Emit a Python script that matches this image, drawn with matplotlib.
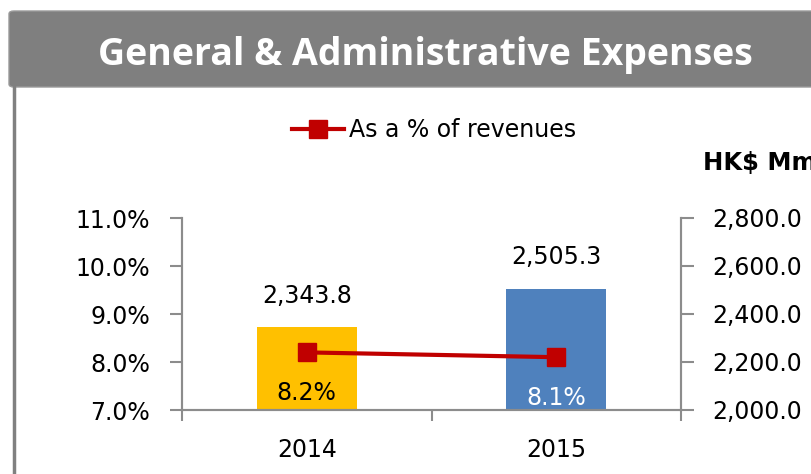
import matplotlib
matplotlib.use("Agg")
import matplotlib.pyplot as plt
import matplotlib.patches as patches
from matplotlib.ticker import FuncFormatter, FixedLocator

# chart data
years = ["2014", "2015"]
expenses = [2343.8, 2505.3]          # HK$ Mm, right axis
pct_revenue = [8.2, 8.1]             # % of revenues, left axis
bar_colors = ["#FFC000", "#4F81BD"]
pct_label_colors = ["black", "white"]

title = "General & Administrative Expenses"
legend_label = "As a % of revenues"
unit_label = "HK$ Mm"

plt.rcParams['font.family'] = ['DejaVu Sans']
W, H = 811, 474
fig = plt.figure(figsize=(W / 100, H / 100), dpi=100)
fig.patch.set_facecolor('white')

# header bar and left frame line
header = patches.FancyBboxPatch((9 / W, 1 - 87 / H), 820 / W, 76 / H,
                                boxstyle="round,pad=0,rounding_size=0.006",
                                transform=fig.transFigure, facecolor='#7F7F7F',
                                edgecolor='#9A9A9A', linewidth=1, zorder=1)
fig.patches.append(header)
fig.add_artist(plt.Line2D([14 / W, 14 / W], [0, 1 - 87 / H], color='#808080',
                          lw=2.5, transform=fig.transFigure))
fig.text(425 / W, 1 - 55 / H, title, color='white', fontsize=27,
         fontweight='bold', ha='center', va='center', family='Open Sans')

# axes: left (percentage) and right (amount)
ax = fig.add_axes([182 / W, 1 - 410 / H, (681 - 182) / W, (410 - 218) / H])
ax2 = ax.twinx()
ax.set_zorder(ax2.get_zorder() + 1)
ax.patch.set_visible(False)

x = list(range(len(years)))
bars = ax2.bar(x, expenses, width=0.4, color=bar_colors, zorder=2)
ax2.set_ylim(2000, 2800)
ax2.set_yticks([2000, 2200, 2400, 2600, 2800])
ax2.yaxis.set_major_formatter(FuncFormatter(lambda v, p: "{:,.1f}".format(v)))
for xi, v in zip(x, expenses):
    ax2.annotate("{:,.1f}".format(v), (xi, v), xytext=(0, 23),
                 textcoords='offset points', ha='center', va='center', fontsize=17)

line, = ax.plot(x, pct_revenue, color='#C00000', lw=3, marker='s',
                markersize=13, zorder=5, label=legend_label)
for xi, v, c in zip(x, pct_revenue, pct_label_colors):
    ax.annotate("%.1f%%" % v, (xi, v), xytext=(0, -29.5),
                textcoords='offset points', ha='center', va='center',
                fontsize=17, color=c, zorder=6)

ax.set_ylim(7, 11)
ax.set_yticks([7, 8, 9, 10, 11])
ax.yaxis.set_major_formatter(FuncFormatter(lambda v, p: "%.1f%%" % v))
ax.set_xlim(-0.5, 1.5)
ax.set_xticks(x)
ax.set_xticklabels(years)
ax.xaxis.set_minor_locator(FixedLocator([-0.5, 0.5, 1.5]))

for a in (ax, ax2):
    for s in a.spines.values():
        s.set_color('#8C8C8C')
        s.set_linewidth(1.5)
    a.spines['top'].set_visible(False)
    a.tick_params(colors='#8C8C8C', labelcolor='black', labelsize=17,
                  width=1.5, length=9)
ax.tick_params(axis='x', which='major', length=0, pad=20)
ax.tick_params(axis='x', which='minor', length=8, width=1.5, colors='#8C8C8C')
ax.tick_params(axis='y', pad=14)
ax2.tick_params(axis='y', pad=13.5)

fig.legend(handles=[line], loc='center', bbox_to_anchor=(434 / W, 1 - 130 / H),
           frameon=False, fontsize=17, handlelength=2.2, handletextpad=0.2)
fig.text(703 / W, 1 - 163 / H, unit_label, fontsize=17.5, fontweight='bold',
         ha='left', va='center')

fig.savefig("out.png", dpi=100)
